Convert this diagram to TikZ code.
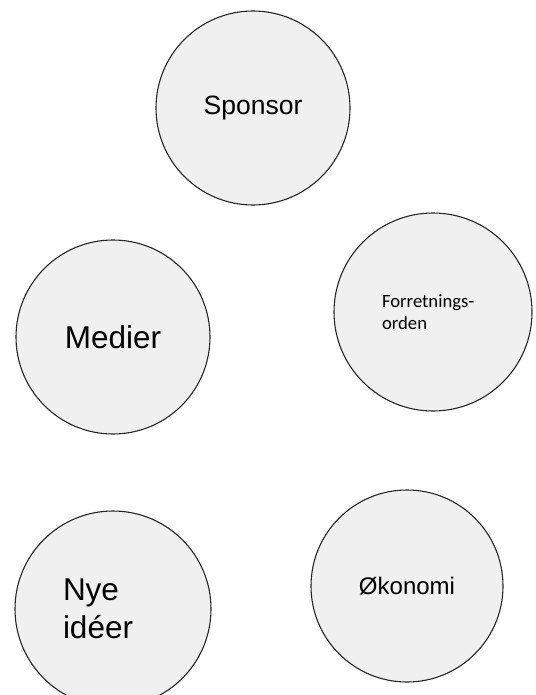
\documentclass[tikz,border=0pt]{standalone}
\usepackage{fontspec}
\setmainfont{Liberation Sans}
\newfontfamily\calibrifont{Carlito}

\tikzset{
  bubble/.style={circle, draw=black!85, line width=1.1pt, fill=black!6, inner sep=0pt},
}

\begin{document}
\begin{tikzpicture}[x=1pt, y=-1pt]
  \useasboundingbox (0,0) rectangle (535,695);
  \node[bubble, minimum size=194pt, font=\fontsize{26.5}{32}\selectfont] (sponsor) at (253,108) {Sponsor};
  \node[bubble, minimum size=194pt, font=\fontsize{31.5}{38}\selectfont] (medier) at (113,337) {Medier};
  \node[bubble, minimum size=198pt, text width=102pt, align=left, font=\calibrifont\fontsize{18.7}{22}\selectfont] (orden) at (433,312) {Forretnings-\\orden};
  \node[bubble, minimum size=196pt, text width=100pt, align=left, font=\fontsize{31.5}{38}\selectfont] (ideer) at (113,609) {Nye\\idéer};
  \node[bubble, minimum size=192pt, font=\fontsize{24}{29}\selectfont] (okonomi) at (407,586) {Økonomi};
\end{tikzpicture}
\end{document}
